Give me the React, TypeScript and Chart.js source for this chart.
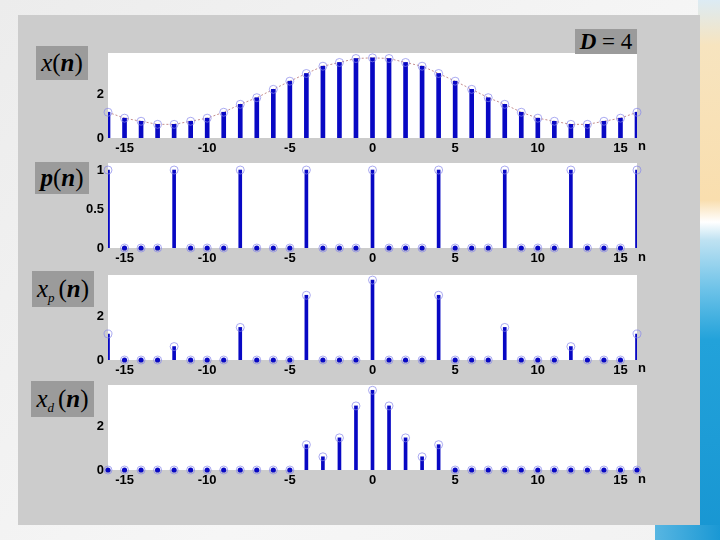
import React, { useEffect, useRef } from "react";
import { Chart, registerables } from "chart.js";

Chart.register(...registerables);

// ---------- data ----------
const nValues = [-16, -15, -14, -13, -12, -11, -10, -9, -8, -7, -6, -5, -4, -3, -2, -1, 0, 1, 2, 3, 4, 5, 6, 7, 8, 9, 10, 11, 12, 13, 14, 15, 16];
const xValues = [1.17, 0.9, 0.76, 0.62, 0.62, 0.76, 0.9, 1.17, 1.53, 1.83, 2.21, 2.58, 2.93, 3.26, 3.43, 3.61, 3.64, 3.61, 3.43, 3.26, 2.93, 2.58, 2.21, 1.83, 1.53, 1.17, 0.9, 0.76, 0.62, 0.62, 0.76, 0.9, 1.17];
const pValues = [1, 0, 0, 0, 1, 0, 0, 0, 1, 0, 0, 0, 1, 0, 0, 0, 1, 0, 0, 0, 1, 0, 0, 0, 1, 0, 0, 0, 1, 0, 0, 0, 1];
const xpValues = [1.18, 0, 0, 0, 0.61, 0, 0, 0, 1.48, 0, 0, 0, 2.94, 0, 0, 0, 3.63, 0, 0, 0, 2.94, 0, 0, 0, 1.48, 0, 0, 0, 0.61, 0, 0, 0, 1.18];
const xdValues = [0, 0, 0, 0, 0, 0, 0, 0, 0, 0, 0, 0, 1.15, 0.6, 1.46, 2.91, 3.62, 2.91, 1.46, 0.6, 1.15, 0, 0, 0, 0, 0, 0, 0, 0, 0, 0, 0, 0];
const xTickValues = [-15, -10, -5, 0, 5, 10, 15];
const yTicksSignal = [0, 2];
const yTicksPulse = [0, 0.5, 1];
const yMaxSignal = 3.86;
const yMaxPulse = 1.09;

// ---------- styles ----------
const STEM = "#0808c4";
const RING = "rgba(135,135,235,0.7)";
const ENVELOPE = "rgba(190,130,130,0.9)";
const TICK_FONT = { family: "'Liberation Sans', Arial, sans-serif", size: 13, weight: "bold" as const };
const SERIF = "'Liberation Serif', 'Times New Roman', serif";

const whiteArea = {
  id: "whiteArea",
  beforeDraw(chart: any) {
    const { ctx, chartArea: a } = chart;
    ctx.save();
    ctx.fillStyle = "#ffffff";
    ctx.fillRect(a.left, a.top, a.right - a.left, a.bottom - a.top);
    ctx.restore();
  },
};

type PlotProps = {
  values: number[];
  yMax: number;
  yTicks: number[];
  stemWidth: number;
  envelope: boolean;
  top: number;
};

function StemPlot({ values, yMax, yTicks, stemWidth, envelope, top }: PlotProps) {
  const ref = useRef<HTMLCanvasElement>(null);
  useEffect(() => {
    const pts = nValues.map((n, i) => ({ x: n, y: values[i] }));
    const zeros = pts.filter((p) => p.y === 0);
    const datasets: any[] = [
      {
        type: "scatter",
        data: pts,
        pointRadius: 4,
        pointBorderColor: RING,
        pointBackgroundColor: "rgba(0,0,0,0)",
        pointBorderWidth: 1,
        clip: false,
        order: 0,
      },
      {
        type: "scatter",
        data: zeros,
        pointRadius: 2.6,
        pointBackgroundColor: STEM,
        pointBorderColor: STEM,
        pointBorderWidth: 0,
        clip: false,
        order: 1,
      },
      {
        type: "bar",
        data: pts,
        backgroundColor: STEM,
        barThickness: stemWidth,
        order: 2,
      },
    ];
    if (envelope) {
      datasets.push({
        type: "line",
        data: pts,
        borderColor: ENVELOPE,
        borderWidth: 1,
        borderDash: [2, 2],
        pointRadius: 0,
        clip: false,
        order: 3,
      });
    }
    const chart = new Chart(ref.current as HTMLCanvasElement, {
      type: "bar",
      data: { datasets },
      options: {
        animation: false,
        responsive: false,
        events: [],
        layout: { autoPadding: false, padding: { left: 68, right: 83, top: 4, bottom: 0 } },
        plugins: { legend: { display: false }, tooltip: { enabled: false } },
        scales: {
          x: {
            type: "linear",
            min: -16,
            max: 16,
            offset: false,
            grid: { display: false, drawTicks: false, tickLength: 0 },
            border: { display: false },
            afterBuildTicks: (s: any) => {
              s.ticks = xTickValues.map((v) => ({ value: v }));
            },
            afterFit: (s: any) => {
              s.height = 22;
              s.paddingLeft = 0;
              s.paddingRight = 0;
            },
            ticks: {
              padding: 3,
              maxRotation: 0,
              autoSkip: false,
              color: "#000",
              font: TICK_FONT,
              callback: (v: any) => String(v),
            },
          },
          y: {
            type: "linear",
            min: 0,
            max: yMax,
            grid: { display: false, drawTicks: false, tickLength: 0 },
            border: { display: false },
            afterBuildTicks: (s: any) => {
              s.ticks = yTicks.map((v) => ({ value: v }));
            },
            afterFit: (s: any) => {
              s.width = 40;
              s.paddingTop = 0;
              s.paddingBottom = 0;
            },
            ticks: {
              padding: 4,
              color: "#000",
              font: TICK_FONT,
              callback: (v: any) => String(v),
            },
          },
        },
      } as any,
      plugins: [whiteArea],
    });
    return () => chart.destroy();
  }, []);
  return (
    <canvas
      ref={ref}
      width={720}
      height={111}
      style={{ position: "absolute", left: 0, top, width: 720, height: 111 }}
    />
  );
}

const boxStyle = (left: number, top: number, width: number, height: number): React.CSSProperties => ({
  position: "absolute",
  left,
  top,
  width,
  height,
  background: "#9b9b9b",
  fontFamily: SERIF,
  fontSize: 25,
  lineHeight: `${height}px`,
  textAlign: "center",
  color: "#000",
  whiteSpace: "nowrap",
});

const nLabel = (top: number): React.CSSProperties => ({
  position: "absolute",
  left: 638,
  top,
  fontFamily: "'Liberation Sans', Arial, sans-serif",
  fontWeight: "bold",
  fontSize: 13,
  lineHeight: "14px",
  color: "#000",
});

export default function App() {
  return (
    <div
      style={{
        position: "fixed",
        left: 0,
        top: 0,
        width: 720,
        height: 540,
        overflow: "hidden",
        background: "linear-gradient(135deg, #ececec 0%, #f6f6f6 60%, #f2f2f2 100%)",
      }}
    >
      {/* decorative slide background */}
      <div
        style={{
          position: "absolute",
          left: 698,
          top: 0,
          width: 22,
          height: 540,
          background:
            "linear-gradient(to bottom, #dcebf4 0px, #f7e4bf 45px, #f9deae 200px, #ffffff 222px, #bfe2f2 240px, #6cc2e8 290px, #22a2da 340px, #1896d2 540px)",
        }}
      />
      <div
        style={{
          position: "absolute",
          left: 655,
          top: 525,
          width: 65,
          height: 15,
          background: "linear-gradient(to right, #58b6e2, #1a98d4)",
        }}
      />
      {/* gray figure panel */}
      <div style={{ position: "absolute", left: 18, top: 15, width: 682, height: 510, background: "#cccccc" }} />

      <StemPlot values={xValues} yMax={yMaxSignal} yTicks={yTicksSignal} stemWidth={4} envelope={true} top={49} />
      <StemPlot values={pValues} yMax={yMaxPulse} yTicks={yTicksPulse} stemWidth={3} envelope={false} top={159} />
      <StemPlot values={xpValues} yMax={yMaxSignal} yTicks={yTicksSignal} stemWidth={3} envelope={false} top={271} />
      <StemPlot values={xdValues} yMax={yMaxSignal} yTicks={yTicksSignal} stemWidth={3} envelope={false} top={381} />

      {/* axis-name boxes */}
      <div style={boxStyle(36, 46, 52, 34)}>
        <i>x</i>(<b><i>n</i></b>)
      </div>
      <div style={boxStyle(35, 162, 54, 32)}>
        <b><i>p</i></b>(<b><i>n</i></b>)
      </div>
      <div style={boxStyle(32, 271, 62, 36)}>
        <i>x</i>
        <span style={{ fontSize: 13, verticalAlign: -5, marginRight: 4 }}>
          <i>p</i>
        </span>
        (<b><i>n</i></b>)
      </div>
      <div style={boxStyle(31, 381, 63, 36)}>
        <i>x</i>
        <span style={{ fontSize: 13, verticalAlign: -5, marginRight: 4 }}>
          <i>d</i>
        </span>
        (<b><i>n</i></b>)
      </div>
      <div style={{ ...boxStyle(575, 29, 62, 25), fontSize: 23 }}>
        <b><i>D</i></b> = 4
      </div>

      {/* n labels */}
      <div style={nLabel(139)}>n</div>
      <div style={nLabel(250)}>n</div>
      <div style={nLabel(361)}>n</div>
      <div style={nLabel(472)}>n</div>
    </div>
  );
}
